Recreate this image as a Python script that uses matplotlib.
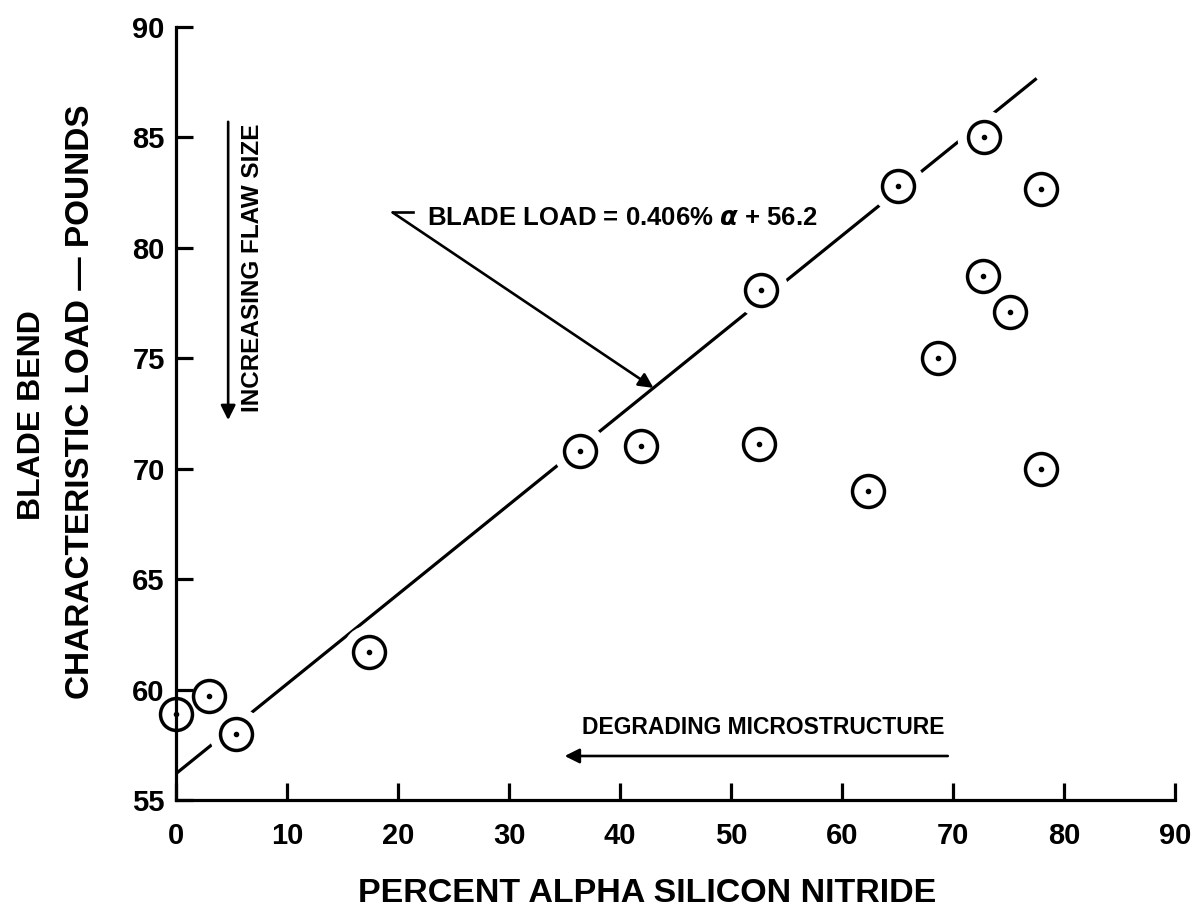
import numpy as np
import matplotlib
matplotlib.use("Agg")
from matplotlib import pyplot as plt

# measured blade bend loads vs. alpha phase content
alpha_pct = [0.0, 3.0, 5.4, 17.4, 36.4, 41.9, 52.5, 52.7, 62.3, 65.0,
             68.6, 72.7, 72.8, 75.1, 77.9, 77.9]
blade_load = [58.9, 59.7, 58.0, 61.7, 70.8, 71.05, 71.1, 78.1, 69.0, 82.8,
              75.0, 78.7, 85.0, 77.1, 70.0, 82.65]

# least squares fit quoted on the chart
fit_slope = 0.406
fit_intercept = 56.2
fit_range = [0.0, 77.5]

x_ticks = list(range(0, 91, 10))
y_ticks = list(range(55, 91, 5))

plt.rcParams['font.family'] = ['Liberation Sans', 'DejaVu Sans']
plt.rcParams['font.weight'] = 'bold'

fig = plt.figure(figsize=(11.97, 9.24), dpi=100)
ax = fig.add_axes([0.147, 0.134, 0.835, 0.837])
ax.set_axisbelow(False)

fit_x = np.array(fit_range)
fit_y = fit_slope * fit_x + fit_intercept
ax.plot(fit_x, fit_y, color='black', lw=2.3, zorder=2, solid_capstyle='butt')

# white discs break the fit line around each data point
ax.plot(alpha_pct, blade_load, ls='none', marker='o', ms=38,
        mfc='white', mec='white', zorder=2.2, clip_on=False)
ax.plot(alpha_pct, blade_load, ls='none', marker='o', ms=23,
        mfc='none', mec='black', mew=2.5, zorder=3, clip_on=False)
ax.plot(alpha_pct, blade_load, ls='none', marker='o', ms=3,
        color='black', zorder=3, clip_on=False)

arrow_style = dict(arrowstyle='-|>', lw=1.9, color='black',
                   mutation_scale=22, shrinkA=0, shrinkB=0)

# equation label with leader arrow
lead_x = 43.0
ax.plot([21.3, 19.5], [81.6, 81.6], color='black', lw=1.9)
ax.annotate('', xy=(lead_x, fit_slope * lead_x + fit_intercept),
            xytext=(19.5, 81.6), arrowprops=arrow_style)
ax.text(22.6, 81.35, r'BLADE LOAD = 0.406% $\alpha$ + 56.2', fontsize=18.5,
        ha='left', va='center')

ax.annotate('', xy=(4.7, 72.2), xytext=(4.7, 85.7), arrowprops=arrow_style)
ax.text(6.9, 79.1, 'INCREASING FLAW SIZE', fontsize=17.5, rotation=90,
        ha='center', va='center')

ax.annotate('', xy=(35.0, 57.0), xytext=(69.5, 57.0), arrowprops=arrow_style)
ax.text(52.9, 58.3, 'DEGRADING MICROSTRUCTURE', fontsize=16.5,
        ha='center', va='center')

ax.set_xlim(0, 90)
ax.set_ylim(55, 90)
ax.set_xticks(x_ticks)
ax.set_yticks(y_ticks)
for side in ['top', 'right']:
    ax.spines[side].set_visible(False)
for side in ['left', 'bottom']:
    ax.spines[side].set_linewidth(2.3)
ax.tick_params(direction='in', length=12, width=2.3, labelsize=21)
ax.tick_params(axis='x', pad=16)
ax.tick_params(axis='y', pad=8)

fig.text(0.541, 0.033, 'PERCENT ALPHA SILICON NITRIDE', fontsize=24.5,
         ha='center', va='center')
fig.text(0.027, 0.551, 'BLADE BEND', fontsize=23, rotation=90,
         ha='center', va='center')
fig.text(0.067, 0.565, 'CHARACTERISTIC LOAD \u2014 POUNDS', fontsize=24,
         rotation=90, ha='center', va='center')

fig.savefig('out.png', dpi=100)
